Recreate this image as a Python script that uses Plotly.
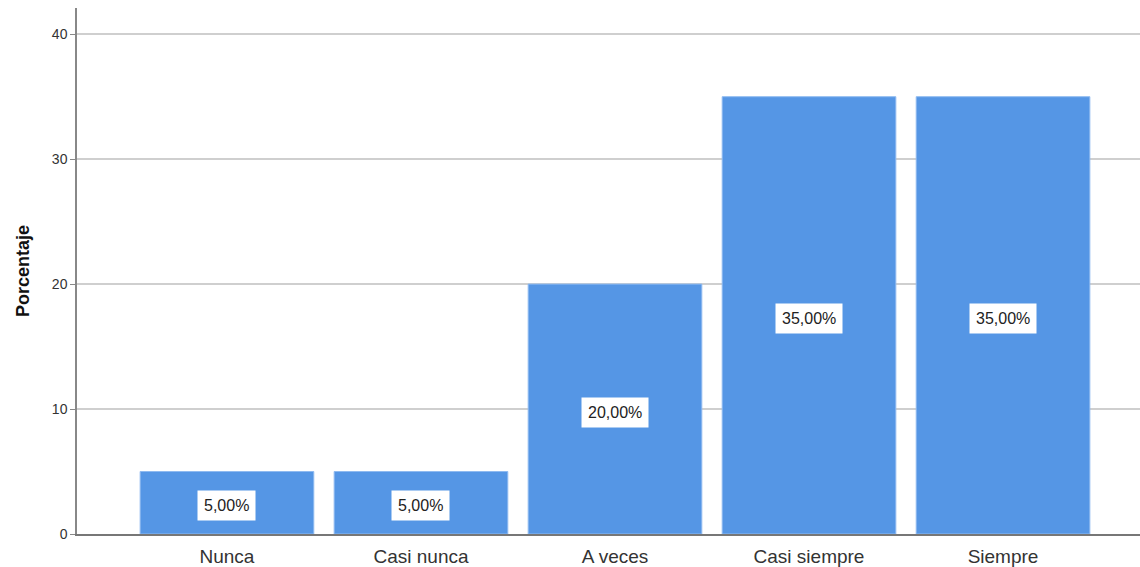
import plotly.graph_objects as go

categories = ["Nunca", "Casi nunca", "A veces", "Casi siempre", "Siempre"]
values = [5, 5, 20, 35, 35]
y_ticks = [0, 10, 20, 30, 40]

def fmt(v):
    return f"{v:.2f}".replace(".", ",") + "%"

fig = go.Figure()
fig.add_trace(go.Bar(
    x=list(range(len(categories))), y=values,
    marker=dict(color="#5596e5", line=dict(color="#8fbaf0", width=1)),
    width=0.895, hoverinfo="skip",
))

for i, v in enumerate(values):
    fig.add_annotation(
        x=i, y=v / 2, yshift=-3, text=fmt(v), showarrow=False,
        font=dict(family="Liberation Sans, Arial", size=16, color="#222"),
        bgcolor="white", borderpad=6,
    )

fig.update_layout(
    width=1140, height=567,
    margin=dict(l=77, r=0, t=8, b=33),
    plot_bgcolor="white", paper_bgcolor="white",
    showlegend=False,
    xaxis=dict(
        range=[-0.773, 4.706],
        tickmode="array", tickvals=list(range(len(categories))), ticktext=categories,
        tickfont=dict(family="Liberation Sans, Arial", size=19, color="#333"),
        ticklabelstandoff=4,
        showgrid=False, showline=True, linecolor="#777", linewidth=1.5,
        ticks="", zeroline=False,
    ),
    yaxis=dict(
        range=[0, 42.1],
        tickmode="array", tickvals=y_ticks,
        tickfont=dict(family="Liberation Sans, Arial", size=14, color="#333"),
        showgrid=True, gridcolor="#cfcfcf", gridwidth=1.5,
        showline=True, linecolor="#888", linewidth=1.5,
        ticks="outside", ticklen=5, tickcolor="#888",
        zeroline=False,
        title=dict(text="<b>Porcentaje</b>",
                   font=dict(family="Liberation Sans, Arial", size=18, color="#111"),
                   standoff=18),
    ),
)

fig.write_html("out.html")
